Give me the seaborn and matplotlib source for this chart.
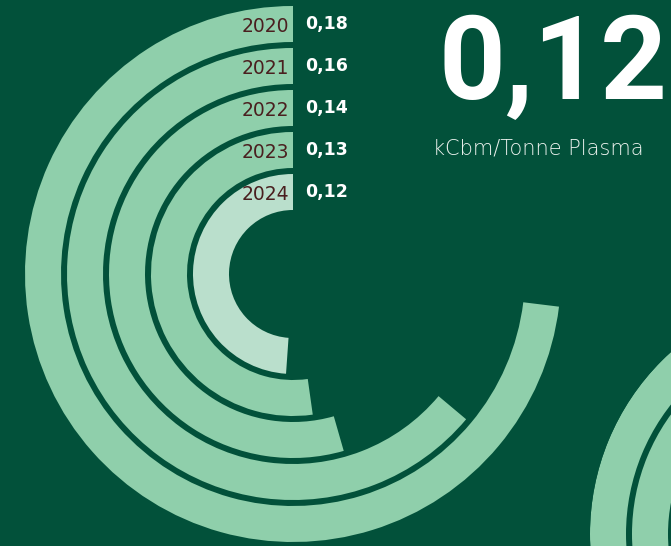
import numpy as np
import matplotlib.pyplot as plt
import seaborn as sns

### data
years = ['2020', '2021', '2022', '2023', '2024']
value_labels = ['0,18', '0,16', '0,14', '0,13', '0,12']
# sweep of each ring in degrees (counter clockwise from 12 o'clock)
sweep_deg = [263, 230, 196, 188, 176]
headline = '0,12'
unit = 'kCbm/Tonne Plasma'

# decorative rings of the next panel (bottom right corner)
deco_rings = [1, 1, 1, 1]

### style
bg = '#02513a'
ring_col = '#8fcfab'
last_col = '#badfcc'
year_col = '#4a1f1f'

sns.set_theme(style='white', rc={'figure.facecolor': bg, 'axes.facecolor': 'none'})
plt.rcParams['font.family'] = ['DejaVu Sans']

W, H = 671, 546
fig = plt.figure(figsize=(W / 100, H / 100), dpi=100)

# main radial chart, 1 data unit = 1 pixel
cx, cy, R = 293, 274, 268
thick, pitch = 36, 42
ax = fig.add_axes([(cx - R) / W, (H - cy - R) / H, 2 * R / W, 2 * R / H],
                  projection='polar')
ax.set_theta_zero_location('N')
ax.set_theta_direction(1)
ax.set_rlim(0, R)
ax.axis('off')

inner = [R - thick - i * pitch for i in range(len(years))]
colors = [ring_col] * (len(years) - 1) + [last_col]
theta = np.deg2rad(sweep_deg)
bars = ax.bar(theta / 2, thick, width=theta, bottom=inner, color=colors,
              linewidth=0, align='center')
for b in bars:
    b.set_clip_on(False)

for yr, lab, r0 in zip(years, value_labels, inner):
    ax.annotate(yr, xy=(0, r0 + thick / 2), xytext=(-3, -1.5),
                textcoords='offset points', ha='right', va='center',
                fontsize=13.5, color=year_col, fontweight='normal',
                annotation_clip=False)
    ax.annotate(lab, xy=(0, r0 + thick / 2), xytext=(8.5, 0),
                textcoords='offset points', ha='left', va='center',
                fontsize=12.5, color='white', fontweight='bold',
                annotation_clip=False)

# decorative rings in the corner
dx, dy, R2 = 835, 534, 245
ax2 = fig.add_axes([(dx - R2) / W, (H - dy - R2) / H, 2 * R2 / W, 2 * R2 / H],
                   projection='polar')
ax2.set_rlim(0, R2)
ax2.axis('off')
inner2 = [R2 - thick - i * pitch for i in range(len(deco_rings))]
ax2.bar(np.pi, thick, width=2 * np.pi, bottom=inner2, color=ring_col, linewidth=0)

# headline figure
fig.text(439 / W, 1 - 99 / H, headline, ha='left', va='baseline',
         fontsize=84, fontweight='bold', color='white', family='Roboto')
fig.text(433 / W, 1 - 154 / H, unit, ha='left', va='baseline',
         fontsize=15, fontweight='light', color='#edf3ef')

fig.savefig('out.png', dpi=100, facecolor=bg)
